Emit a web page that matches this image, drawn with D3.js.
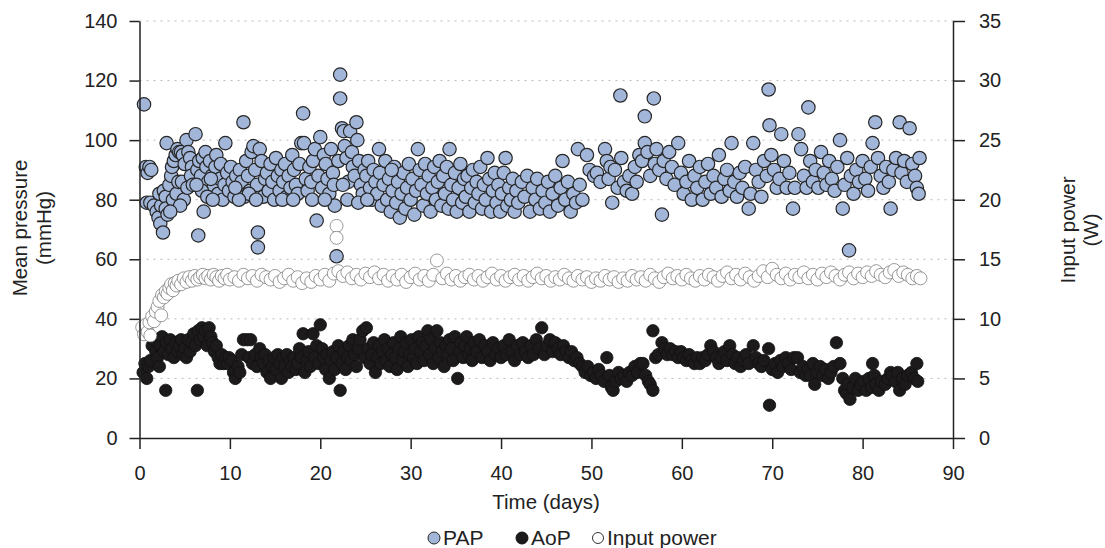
<!DOCTYPE html>
<html>
<head>
	<meta charset="utf-8">
	<title>Pressures and input power</title>
	<style>
		body { margin: 0; background: #fff; }
		text { font-family: "Liberation Sans", Arial, Helvetica, sans-serif; fill: #222; }
	</style>
</head>
<body>
	<svg id="chart" width="1105" height="548"></svg>
</body>
<script src="https://d3js.org/d3.v7.min.js"></script>
<script>
	// [day, mmHg]
	let pap = [
		[0.5,112],[0.7,91],[0.9,89],[1.1,91],[1.3,90],[0.8,79],[1.2,79],[1.6,78],[1.9,76],[2.1,74],[2.3,72],[2.6,69],[2.4,78],[2.2,82],[2.7,83],[2.9,81],[3.0,99],[2.9,77],[3.1,75],
		[3.3,85],[3.5,88],[3.6,91],[3.8,93],[4.0,95],[4.2,97],[4.4,96],[4.6,96],[4.8,95],[5.0,92],[5.2,100],[5.4,96],[5.6,94],[5.8,91],[3.7,80],[4.1,82],[4.3,86],[4.7,86],[4.9,80],[5.3,84],[5.7,88],[5.9,85],[4.5,78],[3.4,76],
		[6.2,102],[6.5,68],[6.4,90],[6.6,93],[6.8,88],[7.0,94],[7.1,76],[7.3,96],[7.4,91],[7.6,86],[7.8,93],[8.0,88],[8.2,84],[8.4,91],[8.5,95],[8.7,82],[8.9,87],[9.0,92],[9.2,80],[9.4,85],[9.5,99],[9.7,89],[9.9,83],[6.9,83],[7.5,81],[8.1,80],[6.3,85],[7.9,87],
		[10.1,91],[10.3,86],[10.5,81],[10.7,88],[10.9,84],[11.1,90],[11.3,86],[11.5,106],[11.6,81],[11.8,93],[12.0,88],[12.2,83],[12.4,96],[12.6,98],[12.8,90],[13.0,85],[13.1,69],[13.1,64],[13.3,97],[13.5,93],[13.7,81],[13.9,87],[14.1,89],[14.3,83],[14.5,92],[14.7,86],[14.9,80],[12.1,82],[11.0,80],[10.6,84],[12.9,80],
		[15.1,94],[15.3,88],[15.5,83],[15.7,90],[15.9,86],[16.1,92],[16.3,81],[16.5,88],[16.7,84],[16.9,95],[17.1,90],[17.3,85],[17.5,82],[17.7,92],[17.9,99],[18.1,109],[18.2,99],[18.4,87],[18.6,83],[18.8,91],[19.0,86],[19.2,93],[19.4,97],[19.6,73],[19.8,88],[20.0,101],[20.2,84],[20.4,95],[15.8,80],[17.0,80],[19.1,80],
		[20.6,92],[20.8,87],[21.0,82],[21.2,97],[21.4,89],[21.6,78],[21.8,61],[22.0,93],[22.2,122],[22.2,114],[22.4,104],[22.6,103],[22.7,98],[22.9,94],[23.1,86],[23.3,103],[23.5,96],[23.6,91],[23.8,88],[24.0,106],[24.1,100],[24.3,93],[24.5,85],[24.7,82],[24.9,90],[21.5,85],[22.5,85],[23.0,80],[24.2,79],[20.5,80],
		[25.1,88],[25.3,93],[25.5,84],[25.7,80],[25.9,90],[26.1,86],[26.3,82],[26.5,97],[26.6,89],[26.8,78],[27.0,85],[27.2,93],[27.4,80],[27.6,87],[27.8,76],[28.0,83],[28.2,91],[28.4,79],[28.6,86],[28.8,74],[29.0,82],[29.2,89],[29.4,77],[29.6,84],[29.8,92],[30.0,80],[30.2,87],[25.2,80],[27.9,90],
		[30.4,75],[30.6,83],[30.8,97],[31.0,90],[31.2,85],[31.4,78],[31.6,92],[31.8,82],[32.0,88],[32.2,76],[32.4,84],[32.6,91],[32.8,80],[33.0,86],[33.2,93],[33.4,78],[33.6,88],[33.8,82],[34.0,91],[34.2,77],[34.3,97],[34.5,85],[34.7,80],[34.9,89],[35.1,76],[35.3,84],[35.5,92],[35.7,79],[35.9,87],
		[36.1,81],[36.3,88],[36.5,76],[36.7,84],[36.9,90],[37.1,79],[37.3,86],[37.5,82],[37.7,91],[37.9,77],[38.1,85],[38.3,80],[38.5,94],[38.7,87],[38.9,76],[39.1,83],[39.3,89],[39.5,79],[39.7,85],[39.9,76],[40.1,82],[40.3,89],[40.5,94],[40.7,78],[40.9,84],[41.1,80],[41.3,87],[41.5,76],[41.7,83],[41.9,79],
		[42.3,86],[42.6,81],[42.9,88],[43.2,76],[43.5,84],[43.8,80],[44.0,87],[44.3,77],[44.6,83],[44.9,79],[45.2,86],[45.4,76],[45.7,82],[46.0,88],[46.3,78],[46.6,84],[46.8,93],[47.1,80],[47.4,86],[47.7,76],[48.0,82],[48.3,79],[48.5,97],[48.7,85],[49.0,80],[49.5,95],[49.8,90],
		[50.3,88],[50.6,89],[51.0,86],[51.5,97],[51.7,93],[51.9,87],[52.1,91],[52.3,79],[52.6,90],[52.9,84],[53.2,115],[53.3,94],[53.6,86],[53.9,83],[54.2,88],[54.5,82],[54.8,91],[55.0,86],[55.3,95],[55.6,93],[55.9,99],[55.9,108],[56.2,96],[56.5,88],[56.9,114],[57.0,92],[57.2,97],[57.5,90],[57.8,75],[58.0,93],[58.3,87],[58.6,96],[58.9,91],[59.2,85],[59.6,99],[59.9,89],
		[60.2,82],[60.5,86],[60.8,93],[61.1,80],[61.4,88],[61.7,84],[62.0,91],[62.3,80],[62.6,86],[62.9,92],[63.2,82],[63.5,88],[63.8,84],[64.1,95],[64.4,81],[64.7,87],[65.0,90],[65.3,83],[65.5,99],[65.8,86],[66.1,81],[66.4,89],[66.7,84],[67.0,91],[67.4,77],[67.6,82],[67.9,99],[68.2,90],[68.5,86],[68.8,81],[69.1,93],[69.4,88],[69.6,117],[69.7,105],[69.9,95],
		[70.2,90],[70.5,84],[70.8,87],[71.0,102],[71.3,93],[71.6,84],[71.9,89],[72.3,77],[72.5,84],[72.9,102],[73.2,97],[73.5,88],[73.8,84],[74.0,111],[74.2,93],[74.5,86],[74.8,90],[75.1,84],[75.4,96],[75.7,89],[76.0,85],[76.3,93],[76.6,87],[76.9,83],[77.2,91],[77.5,100],[77.8,77],[78.0,85],[78.3,94],[78.5,63],[78.7,88],[79.0,82],[79.3,90],[79.6,86],
		[80.0,93],[80.3,87],[80.6,83],[80.9,91],[81.1,99],[81.4,106],[81.7,94],[82.0,88],[82.3,84],[82.6,91],[82.9,86],[83.1,77],[83.4,90],[83.7,94],[84.1,106],[84.3,89],[84.6,93],[84.9,86],[85.2,104],[85.5,92],[85.8,88],[86.0,84],[86.2,82],[86.3,94]
	]

	// [day, mmHg]
	let aop = [
		[0.4,22],[0.6,25],[0.8,20],[1.0,24],[1.2,26],[1.4,31],[1.6,33],[1.8,29],[2.0,27],[2.2,24],[2.3,31],[2.5,34],[2.7,29],[2.9,16],[3.0,32],
		[3.2,28],[3.4,33],[3.6,30],[3.8,27],[4.0,32],[4.2,29],[4.4,31],[4.6,33],[4.8,28],[5.0,30],[5.2,27],[5.4,33],[5.6,29],[5.8,32],[6.0,35],
		[6.2,31],[6.4,16],[6.5,36],[6.7,33],[6.9,37],[7.1,34],[7.3,36],[7.5,31],[7.7,37],[7.9,34],[8.1,32],[8.3,29],[8.5,31],[8.7,27],[8.9,25],[9.1,28],[9.3,25],[9.5,27],[9.7,25],[9.9,27],
		[10.2,26],[10.4,22],[10.6,20],[10.9,24],[11.1,22],[11.3,28],[11.5,33],[11.9,33],[12.3,33],[12.1,27],[12.5,25],[12.8,28],[13.0,24],[13.3,30],[13.5,27],[13.7,25],[13.9,28],[14.1,22],[14.3,26],[14.5,20],[14.7,24],[14.9,27],
		[15.1,23],[15.3,28],[15.5,25],[15.7,20],[15.9,27],[16.1,24],[16.3,28],[16.5,22],[16.7,26],[16.9,24],[17.1,27],[17.3,23],[17.5,25],[17.7,30],[17.9,27],[18.1,35],[18.3,22],[18.5,26],[18.7,29],[18.9,24],[19.2,35],[19.4,27],[19.6,31],[19.8,25],[20.0,38],
		[20.2,30],[20.4,27],[20.6,23],[20.8,28],[21.0,20],[21.2,26],[21.4,29],[21.6,23],[21.8,27],[22.0,31],[22.2,16],[22.4,25],[22.6,29],[22.8,23],[23.0,27],[23.2,31],[23.4,26],[23.6,33],[23.8,28],[24.0,24],[24.2,30],[24.4,33],[24.7,36],[24.9,27],
		[25.1,37],[25.3,30],[25.5,25],[25.7,28],[25.9,32],[26.1,22],[26.3,27],[26.5,31],[26.7,25],[26.9,29],[27.1,33],[27.3,26],[27.5,30],[27.7,24],[27.9,28],[28.1,32],[28.3,27],[28.5,23],[28.7,30],[28.9,34],[29.1,26],[29.3,29],[29.5,32],[29.7,24],[29.9,28],
		[30.1,33],[30.3,27],[30.5,30],[30.7,25],[30.9,34],[31.1,29],[31.3,32],[31.5,26],[31.7,31],[31.9,36],[32.1,28],[32.3,33],[32.5,25],[32.7,30],[32.9,36],[33.1,27],[33.3,32],[33.5,29],[33.7,24],[33.9,31],[34.1,28],[34.3,33],[34.5,30],[34.7,26],[34.9,34],[35.2,20],[35.4,29],[35.6,32],[35.8,27],
		[36.0,31],[36.2,34],[36.4,28],[36.6,30],[36.8,26],[37.0,32],[37.3,29],[37.6,33],[37.9,27],[38.2,31],[38.5,29],[38.8,26],[39.1,32],[39.4,28],[39.7,30],[40.0,27],[40.3,31],[40.6,28],[40.9,33],[41.2,29],[41.5,26],[41.8,31],[42.1,28],[42.4,32],[42.7,29],[43.0,27],[43.3,31],[43.6,28],[43.9,33],
		[44.2,30],[44.5,37],[44.8,28],[45.1,31],[45.4,33],[45.7,29],[46.0,32],[46.3,30],[46.6,28],[46.9,31],[47.2,29],[47.5,27],[47.8,29],[48.1,26],[48.4,27],[48.7,25],[49.0,24],[49.3,22],[49.6,24],[49.9,21],
		[50.2,22],[50.5,20],[50.8,23],[51.1,21],[51.4,19],[51.7,27],[52.0,21],[52.2,17],[52.4,16],[52.7,19],[53.0,22],[53.3,20],[53.6,21],[53.9,19],[54.2,22],[54.5,21],[54.8,24],[55.1,22],[55.4,25],[55.7,25],[56.0,21],[56.3,19],[56.5,18],[56.8,36],[56.8,16],
		[57.1,27],[57.4,28],[57.8,32],[58.1,30],[58.4,28],[58.7,30],[59.0,28],[59.3,29],[59.6,27],[59.9,29],[60.2,27],[60.5,26],[60.8,28],[61.1,26],[61.4,25],[61.7,27],[62.0,25],[62.3,27],[62.6,26],[62.9,28],[63.2,31],[63.5,29],[63.8,27],
		[64.1,25],[64.4,27],[64.7,29],[65.0,26],[65.3,31],[65.6,28],[65.9,25],[66.2,27],[66.5,24],[66.8,26],[67.1,28],[67.4,25],[67.9,31],[68.2,27],[68.5,25],[68.8,24],[69.1,26],[69.6,30],[69.7,11],[70.0,23],[70.3,25],[70.6,22],[70.9,26],[71.2,24],[71.5,27],[71.8,25],[72.1,23],
		[72.4,27],[72.8,27],[73.1,22],[73.4,24],[73.7,21],[74.0,23],[74.2,21],[74.5,25],[74.7,18],[75.0,22],[75.3,24],[75.6,21],[75.9,23],[76.2,20],[76.5,22],[76.8,24],[77.1,32],[77.5,25],[77.8,20],[78.0,16],[78.2,15],[78.4,18],[78.6,13],[78.9,17],[79.2,20],[79.5,16],[79.8,18],
		[80.1,19],[80.4,16],[80.7,20],[81.0,17],[81.1,25],[81.3,21],[81.5,18],[81.8,16],[82.1,19],[82.5,18],[82.8,20],[83.1,22],[83.3,21],[83.6,19],[83.9,22],[84.1,16],[84.4,20],[84.7,18],[85.0,21],[85.4,22],[85.7,20],[86.0,25],[86.1,19]
	]

	// [day, W]
	let power = [
		[0.3,9.3],[0.5,8.7],[0.7,9.5],[0.9,8.9],[1.1,9.7],[1.2,8.6],[1.4,10.2],[1.6,9.8],[1.8,10.6],[2.0,11.0],[2.2,11.5],[2.4,10.3],[2.5,12.0],[2.7,11.8],[2.9,12.3],[3.1,12.1],[3.3,12.6],[3.5,12.9],[3.7,12.4],[3.9,13.0],
		[4.1,12.8],[4.3,13.2],[4.6,12.9],[4.9,13.4],[5.2,13.1],[5.5,13.5],[5.8,13.2],[6.1,13.6],[6.4,13.3],[6.7,13.5],[7.0,13.7],[7.3,13.4],[7.6,13.6],[7.9,13.3],[8.2,13.7],[8.5,13.5],[8.8,13.2],[9.1,13.6],[9.4,13.4],[9.7,13.7],[10.0,13.3],
		[10.5,13.5],[11.0,13.2],[11.5,13.7],[12.0,13.4],[12.5,13.6],[13.0,13.2],[13.5,13.7],[14.0,13.5],[14.5,13.3],[15.0,13.6],[15.5,13.1],[16.0,13.4],[16.5,13.7],[17.0,13.2],[17.5,13.5],[18.0,13.0],[18.5,13.4],[19.0,13.1],[19.5,13.6],[20.0,13.3],
		[20.5,13.7],[21.0,13.2],[21.5,13.8],[21.8,17.8],[21.8,16.8],[22.0,14.0],[22.5,13.6],[23.0,13.9],[23.5,13.4],[24.0,13.7],[24.5,13.3],[25.0,13.8],[25.5,13.5],[26.0,13.9],[26.5,13.4],[27.0,13.7],[27.5,13.2],[28.0,13.6],[28.5,13.3],[29.0,13.7],[29.5,13.1],[30.0,13.5],
		[30.5,13.8],[31.0,13.3],[31.5,13.6],[32.0,13.2],[32.5,13.7],[32.9,14.9],[33.5,13.4],[34.0,13.8],[34.5,13.3],[35.0,13.6],[35.5,13.2],[36.0,13.5],[36.5,13.7],[37.0,13.3],[37.5,13.6],[38.0,13.2],[38.5,13.5],[39.0,13.8],[39.5,13.3],[40.0,13.6],
		[40.5,13.2],[41.0,13.5],[41.5,13.7],[42.0,13.3],[42.5,13.6],[43.0,13.2],[43.5,13.5],[44.0,13.8],[44.5,13.4],[45.0,13.6],[45.5,13.2],[46.0,13.5],[46.5,13.3],[47.0,13.7],[47.5,13.4],[48.0,13.2],[48.5,13.6],[49.0,13.3],[49.5,13.5],[50.0,13.1],
		[50.5,13.4],[51.0,13.2],[51.5,13.6],[52.0,13.3],[52.5,13.5],[53.0,13.1],[53.5,13.4],[54.0,13.2],[54.5,13.6],[55.0,13.3],[55.5,13.5],[56.0,13.2],[56.5,13.7],[57.0,13.4],[57.5,13.1],[58.0,13.5],[58.5,13.8],[59.0,13.4],[59.5,13.6],[60.0,13.3],
		[60.5,13.7],[61.0,13.4],[61.5,13.2],[62.0,13.6],[62.5,13.3],[63.0,13.7],[63.5,13.5],[64.0,13.2],[64.5,13.6],[65.0,13.9],[65.5,13.4],[66.0,13.7],[66.5,13.3],[67.0,13.8],[67.5,13.5],[68.0,13.2],[68.5,13.6],[69.0,14.0],[69.5,13.5],[70.0,14.2],
		[70.5,13.7],[71.0,13.4],[71.5,13.8],[72.0,13.3],[72.5,13.7],[73.0,13.5],[73.5,13.9],[74.0,13.4],[74.5,13.7],[75.0,13.3],[75.5,13.8],[76.0,13.5],[76.5,13.9],[77.0,13.6],[77.5,13.3],[78.0,13.7],[78.5,13.9],[79.0,13.4],[79.5,13.8],[80.0,13.5],
		[80.5,13.9],[81.0,13.6],[81.5,14.0],[82.0,13.7],[82.5,13.5],[83.0,13.9],[83.5,14.1],[84.0,13.6],[84.5,13.9],[85.0,13.7],[85.5,13.4],[86.0,13.6],[86.4,13.4]
	]

	let xTicks = [0, 10, 20, 30, 40, 50, 60, 70, 80, 90]
	let leftTicks = [0, 20, 40, 60, 80, 100, 120, 140]
	let rightTicks = [0, 5, 10, 15, 20, 25, 30, 35]
	let legendNames = ["PAP", "AoP", "Input power"]

	let svg = d3.select("#chart")

	let x = d3.scaleLinear().domain([0, 90]).range([139.5, 953])
	let yL = d3.scaleLinear().domain([0, 140]).range([438, 21])
	let yR = d3.scaleLinear().domain([0, 35]).range([438, 21])

	// dotted grid
	svg.append("g")
		.selectAll("line")
		.data(leftTicks.slice(1))
		.enter()
		.append("line")
			.attr("x1", x(0)).attr("x2", x(90))
			.attr("y1", d => yL(d)).attr("y2", d => yL(d))
			.attr("stroke", "#aaa")
			.attr("stroke-width", 0.8)
			.attr("stroke-dasharray", "2,5")

	// points: AoP, input power, PAP on top
	svg.append("g")
		.selectAll("circle")
		.data(aop)
		.enter()
		.append("circle")
			.attr("cx", d => x(d[0]))
			.attr("cy", d => yL(d[1]))
			.attr("r", 6.2)
			.attr("fill", "#1c1a1b")
			.attr("stroke", "#111")
			.attr("stroke-width", 0.8)

	svg.append("g")
		.selectAll("circle")
		.data(power)
		.enter()
		.append("circle")
			.attr("cx", d => x(d[0]))
			.attr("cy", d => yR(d[1]))
			.attr("r", 6.5)
			.attr("fill", "#fff")
			.attr("stroke", "#555")
			.attr("stroke-width", 0.6)

	svg.append("g")
		.selectAll("circle")
		.data(pap)
		.enter()
		.append("circle")
			.attr("cx", d => x(d[0]))
			.attr("cy", d => yL(d[1]))
			.attr("r", 6.7)
			.attr("fill", "#a2b6d9")
			.attr("stroke", "#262626")
			.attr("stroke-width", 1.2)

	// axes
	let xAxis = svg.append("g")
		.attr("transform", "translate(0,438)")
		.call(d3.axisBottom(x).tickValues(xTicks).tickSize(11).tickPadding(17).tickSizeOuter(0))
	let lAxis = svg.append("g")
		.attr("transform", "translate(139.5,0)")
		.call(d3.axisLeft(yL).tickValues(leftTicks).tickSize(10).tickPadding(12).tickSizeOuter(0))
	let rAxis = svg.append("g")
		.attr("transform", "translate(953,0)")
		.call(d3.axisRight(yR).tickValues(rightTicks).tickSize(12).tickPadding(14).tickSizeOuter(0))

	for (let a of [xAxis, lAxis, rAxis]) {
		a.selectAll("path, line").attr("stroke", "#222").attr("stroke-width", 1.5)
		a.selectAll("text")
			.style("font-family", '"Liberation Sans", Arial, sans-serif')
			.style("font-size", "20px")
			.attr("fill", "#222")
	}

	// axis titles
	svg.append("text")
		.attr("x", 546).attr("y", 509)
		.attr("text-anchor", "middle")
		.style("font-size", "20.5px")
		.text("Time (days)")

	let lt = svg.append("text")
		.attr("transform", "translate(27,228) rotate(-90)")
		.attr("text-anchor", "middle")
		.style("font-size", "20.5px")
	lt.append("tspan").attr("x", 0).attr("dy", 0).text("Mean pressure")
	lt.append("tspan").attr("x", 0).attr("dy", 24).text("(mmHg)")

	let rt = svg.append("text")
		.attr("transform", "translate(1075,230) rotate(-90)")
		.attr("text-anchor", "middle")
		.style("font-size", "20.5px")
	rt.append("tspan").attr("x", 0).attr("dy", 0).text("Input power")
	rt.append("tspan").attr("x", 0).attr("dy", 23).text("(W)")

	// legend
	let legendX = [434, 522, 598]
	let legendStyle = [
		{fill: "#a2b6d9", stroke: "#262626", r: 6},
		{fill: "#1c1a1b", stroke: "#111", r: 6},
		{fill: "#fff", stroke: "#333", r: 5.5}
	]
	let leg = svg.append("g")
		.selectAll("g")
		.data(legendNames)
		.enter()
		.append("g")
			.attr("transform", (d, i) => `translate(${legendX[i]},538)`)
	leg.append("circle")
		.attr("r", (d, i) => legendStyle[i].r)
		.attr("fill", (d, i) => legendStyle[i].fill)
		.attr("stroke", (d, i) => legendStyle[i].stroke)
		.attr("stroke-width", 1)
	leg.append("text")
		.attr("x", 9).attr("y", 6.5)
		.style("font-size", "21px")
		.text(d => d)
</script>
</html>
